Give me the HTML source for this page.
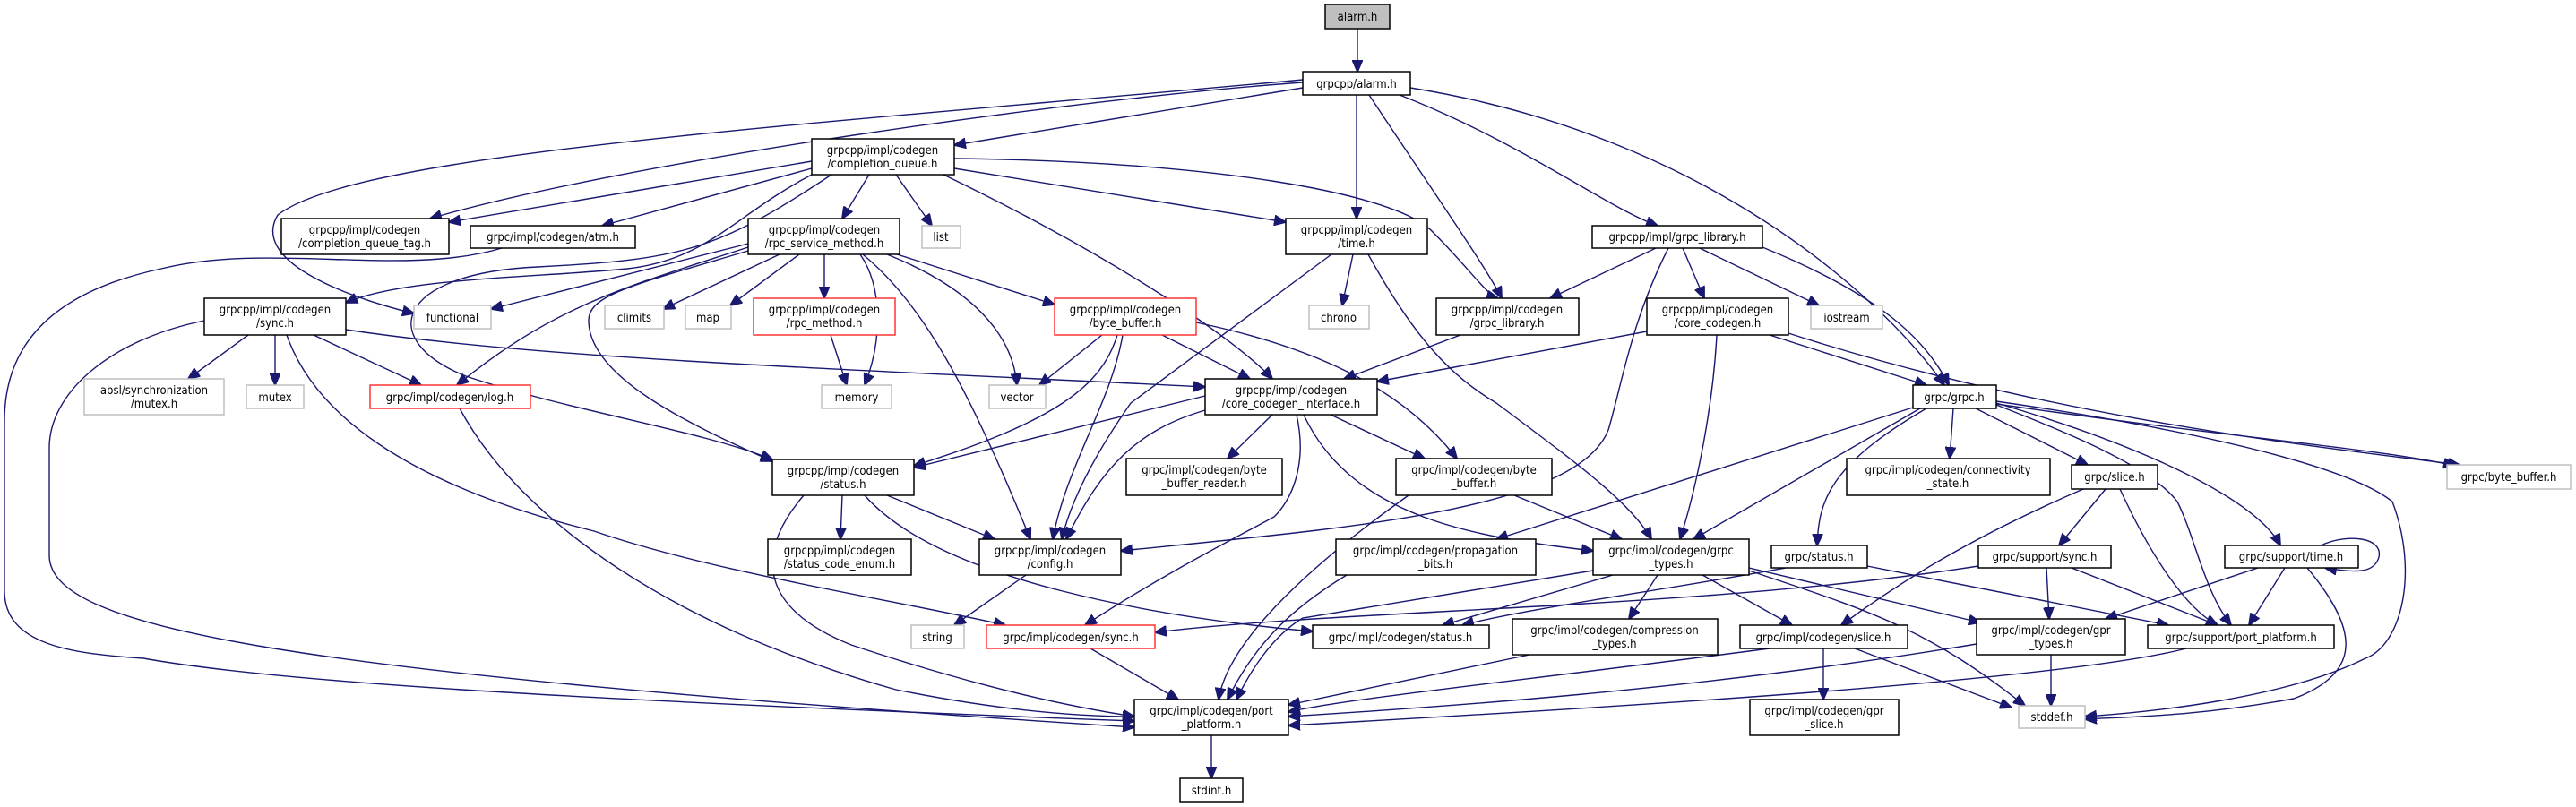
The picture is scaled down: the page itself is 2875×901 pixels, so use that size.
<!DOCTYPE html>
<html><head><meta charset="utf-8"><style>
html,body{margin:0;padding:0;background:#fff;}
svg{display:block;}
text{font-family:"DejaVu Sans Condensed","DejaVu Sans","Liberation Sans",sans-serif;font-stretch:condensed;font-size:13px;fill:#000;text-anchor:middle;}
.e{fill:none;stroke:#191970;stroke-width:1.4;marker-end:url(#ah);}
.n{fill:#fff;stroke:#000;stroke-width:1.5;}
.g{fill:#fff;stroke:#bfbfbf;stroke-width:1.5;}
.r{fill:#fff;stroke:#ff3333;stroke-width:1.5;}
</style></head><body>
<svg width="2875" height="901" viewBox="0 0 2875 901" xmlns="http://www.w3.org/2000/svg">
<defs><marker id="ah" markerUnits="userSpaceOnUse" markerWidth="14" markerHeight="12" refX="13" refY="6" orient="auto"><path d="M0,0 L14,6 L0,12 z" fill="#191970" stroke="#191970"/></marker></defs>
<g>
<path class="e" d="M1515,32 L1515,80"/>
<path class="e" d="M1454,98 L1065,162"/>
<path class="e" d="M1454,92 C1200,110 700,180 480,244"/>
<path class="e" d="M1454,89 C900,140 400,170 310,240 C280,290 380,330 462,350"/>
<path class="e" d="M1514,106 L1514,244"/>
<path class="e" d="M1528,106 C1590,200 1660,300 1676,333"/>
<path class="e" d="M1562,106 C1700,160 1790,230 1850,252"/>
<path class="e" d="M1574,98 C1900,150 2100,330 2170,430"/>
<path class="e" d="M906,180 L501,248"/>
<path class="e" d="M906,188 L672,252"/>
<path class="e" d="M970,195 L940,244"/>
<path class="e" d="M1000,195 L1040,252"/>
<path class="e" d="M1065,188 L1435,248"/>
<path class="e" d="M1065,177 C1350,180 1560,215 1600,260 C1640,300 1660,330 1672,333"/>
<path class="e" d="M1053,195 C1250,290 1380,380 1420,423"/>
<path class="e" d="M906,195 C820,240 790,290 700,300 C600,310 450,310 386,338"/>
<path class="e" d="M928,195 C800,280 760,290 600,298 C440,305 420,380 520,420 C640,460 780,480 862,513"/>
<path class="e" d="M560,277 C450,310 300,270 180,300 C40,330 5,400 5,470 L5,660 C5,720 80,730 160,735 C300,760 600,780 1266,805"/>
<path class="e" d="M228,358 C120,380 55,440 55,500 L55,620 C55,700 300,750 1266,812"/>
<path class="e" d="M277,374 L210,423"/>
<path class="e" d="M307,374 L307,430"/>
<path class="e" d="M350,374 L470,430"/>
<path class="e" d="M320,374 C350,460 450,540 663,593 C800,640 1000,670 1122,698"/>
<path class="e" d="M386,368 C600,400 900,410 1345,432"/>
<path class="e" d="M835,272 L548,345"/>
<path class="e" d="M870,284 L740,345"/>
<path class="e" d="M892,284 L815,341"/>
<path class="e" d="M920,284 L920,333"/>
<path class="e" d="M960,284 C985,320 985,380 965,430"/>
<path class="e" d="M990,284 C1080,320 1130,370 1135,430"/>
<path class="e" d="M995,282 L1177,340"/>
<path class="e" d="M835,276 C700,320 620,340 510,430"/>
<path class="e" d="M835,280 C700,320 655,330 657,360 C660,420 760,470 862,515"/>
<path class="e" d="M963,284 C1030,340 1080,430 1150,602"/>
<path class="e" d="M927,374 L945,430"/>
<path class="e" d="M1230,374 L1160,430"/>
<path class="e" d="M1247,374 C1230,430 1180,470 1020,520"/>
<path class="e" d="M1253,374 C1240,450 1190,520 1175,602"/>
<path class="e" d="M1297,374 L1395,423"/>
<path class="e" d="M1335,360 C1480,390 1570,440 1626,512"/>
<path class="e" d="M1510,284 L1498,341"/>
<path class="e" d="M1486,284 L1262,450 C1220,510 1195,560 1185,602"/>
<path class="e" d="M1527,284 C1580,380 1620,420 1670,450 C1750,510 1820,560 1843,602"/>
<path class="e" d="M1848,277 L1730,333"/>
<path class="e" d="M1878,277 L1902,333"/>
<path class="e" d="M1897,277 L2030,341"/>
<path class="e" d="M1967,276 C2100,330 2150,380 2175,430"/>
<path class="e" d="M1862,277 C1820,360 1810,430 1795,480 C1760,570 1500,590 1251,615"/>
<path class="e" d="M1630,374 L1500,423"/>
<path class="e" d="M1838,370 L1537,426"/>
<path class="e" d="M1975,374 L2150,430"/>
<path class="e" d="M1916,374 C1912,450 1895,540 1875,602"/>
<path class="e" d="M1996,372 C2300,470 2600,500 2745,519"/>
<path class="e" d="M513,456 C580,580 750,700 1000,770 Q1150,800 1266,800"/>
<path class="e" d="M1345,442 L1020,522"/>
<path class="e" d="M1345,458 C1270,480 1230,520 1190,602"/>
<path class="e" d="M1420,463 L1370,512"/>
<path class="e" d="M1485,463 L1590,512"/>
<path class="e" d="M1455,463 C1510,580 1650,600 1778,615"/>
<path class="e" d="M1447,463 C1460,520 1440,560 1422,577 C1380,600 1300,640 1211,698"/>
<path class="e" d="M2180,456 L2176,512"/>
<path class="e" d="M2205,456 L2330,519"/>
<path class="e" d="M2150,456 C2040,520 2030,560 2028,609"/>
<path class="e" d="M2143,456 L1890,602"/>
<path class="e" d="M2135,455 L1670,602"/>
<path class="e" d="M2228,452 C2300,480 2400,520 2430,560 C2450,600 2460,660 2490,698"/>
<path class="e" d="M2228,450 C2400,500 2520,560 2545,609"/>
<path class="e" d="M2228,448 C2450,480 2620,520 2670,560 C2700,640 2680,720 2640,735 C2550,780 2400,795 2327,800"/>
<path class="e" d="M2228,451 C2500,490 2650,500 2740,520"/>
<path class="e" d="M940,553 L938,602"/>
<path class="e" d="M990,553 L1110,602"/>
<path class="e" d="M897,553 C840,620 850,680 950,720 C1100,770 1200,790 1266,800"/>
<path class="e" d="M965,553 C1050,650 1300,690 1465,705"/>
<path class="e" d="M1690,553 L1810,602"/>
<path class="e" d="M1572,553 C1450,640 1370,720 1360,781"/>
<path class="e" d="M1145,642 L1065,698"/>
<path class="e" d="M1503,642 C1440,680 1400,720 1370,781"/>
<path class="e" d="M1800,642 L1610,698"/>
<path class="e" d="M1850,642 L1818,691"/>
<path class="e" d="M1778,637 L1454,690 C1420,710 1395,750 1380,781"/>
<path class="e" d="M1952,634 L2210,695"/>
<path class="e" d="M1900,642 L2000,698"/>
<path class="e" d="M1952,637 C2080,680 2150,700 2260,788"/>
<path class="e" d="M1993,634 C1850,660 1700,680 1632,698"/>
<path class="e" d="M2084,632 L2420,698"/>
<path class="e" d="M2208,632 C1900,680 1500,680 1289,706"/>
<path class="e" d="M2284,634 L2287,691"/>
<path class="e" d="M2312,634 L2475,698"/>
<path class="e" d="M2590,609 C2620,595 2660,600 2655,622 C2650,640 2630,640 2595,634"/>
<path class="e" d="M2520,634 L2350,691"/>
<path class="e" d="M2550,634 L2510,698"/>
<path class="e" d="M2575,634 C2630,700 2640,750 2560,780 C2450,800 2380,800 2327,803"/>
<path class="e" d="M2325,546 C2200,600 2120,650 2055,698"/>
<path class="e" d="M2350,546 L2298,609"/>
<path class="e" d="M2366,546 C2400,620 2440,680 2475,698"/>
<path class="e" d="M1217,724 L1315,781"/>
<path class="e" d="M1707,731 L1438,787"/>
<path class="e" d="M1975,724 C1700,760 1500,780 1438,795"/>
<path class="e" d="M2035,724 L2035,781"/>
<path class="e" d="M2070,724 L2245,790"/>
<path class="e" d="M2206,719 C1900,770 1600,790 1438,800"/>
<path class="e" d="M2289,731 L2289,788"/>
<path class="e" d="M2440,724 C2300,760 1800,790 1438,810"/>
<path class="e" d="M1352,821 L1352,869"/>
</g>
<g>
<rect x="1479" y="5" width="72" height="27" fill="#bfbfbf" stroke="#000" stroke-width="1.5"/><text x="1515" y="23">alarm.h</text>
<rect class="n" x="1454" y="80" width="120" height="26"/><text x="1514" y="98">grpcpp/alarm.h</text>
<rect class="n" x="906" y="155" width="159" height="40"/><text x="985" y="172">grpcpp/impl/codegen</text><text x="985" y="187">/completion_queue.h</text>
<rect class="n" x="314" y="244" width="187" height="40"/><text x="407" y="261">grpcpp/impl/codegen</text><text x="407" y="276">/completion_queue_tag.h</text>
<rect class="n" x="525" y="252" width="184" height="25"/><text x="617" y="269">grpc/impl/codegen/atm.h</text>
<rect class="n" x="835" y="244" width="169" height="40"/><text x="920" y="261">grpcpp/impl/codegen</text><text x="920" y="276">/rpc_service_method.h</text>
<rect class="g" x="1029" y="252" width="43" height="25"/><text x="1050" y="269">list</text>
<rect class="n" x="1435" y="244" width="158" height="40"/><text x="1514" y="261">grpcpp/impl/codegen</text><text x="1514" y="276">/time.h</text>
<rect class="n" x="1777" y="252" width="190" height="25"/><text x="1872" y="269">grpcpp/impl/grpc_library.h</text>
<rect class="n" x="228" y="333" width="158" height="41"/><text x="307" y="350">grpcpp/impl/codegen</text><text x="307" y="365">/sync.h</text>
<rect class="g" x="462" y="341" width="86" height="26"/><text x="505" y="359">functional</text>
<rect class="g" x="675" y="341" width="66" height="26"/><text x="708" y="359">climits</text>
<rect class="g" x="765" y="341" width="51" height="26"/><text x="790" y="359">map</text>
<rect class="r" x="841" y="333" width="158" height="41"/><text x="920" y="350">grpcpp/impl/codegen</text><text x="920" y="365">/rpc_method.h</text>
<rect class="r" x="1177" y="333" width="158" height="41"/><text x="1256" y="350">grpcpp/impl/codegen</text><text x="1256" y="365">/byte_buffer.h</text>
<rect class="g" x="1461" y="341" width="67" height="26"/><text x="1494" y="359">chrono</text>
<rect class="n" x="1603" y="333" width="159" height="41"/><text x="1682" y="350">grpcpp/impl/codegen</text><text x="1682" y="365">/grpc_library.h</text>
<rect class="n" x="1838" y="333" width="158" height="41"/><text x="1917" y="350">grpcpp/impl/codegen</text><text x="1917" y="365">/core_codegen.h</text>
<rect class="g" x="2021" y="341" width="80" height="26"/><text x="2061" y="359">iostream</text>
<rect class="g" x="94" y="423" width="156" height="40"/><text x="172" y="440">absl/synchronization</text><text x="172" y="455">/mutex.h</text>
<rect class="g" x="275" y="430" width="64" height="26"/><text x="307" y="448">mutex</text>
<rect class="r" x="413" y="430" width="179" height="26"/><text x="502" y="448">grpc/impl/codegen/log.h</text>
<rect class="g" x="917" y="430" width="78" height="26"/><text x="956" y="448">memory</text>
<rect class="g" x="1104" y="430" width="63" height="26"/><text x="1135" y="448">vector</text>
<rect class="n" x="1345" y="423" width="192" height="40"/><text x="1441" y="440">grpcpp/impl/codegen</text><text x="1441" y="455">/core_codegen_interface.h</text>
<rect class="n" x="2135" y="430" width="93" height="26"/><text x="2181" y="448">grpc/grpc.h</text>
<rect class="n" x="862" y="513" width="158" height="40"/><text x="941" y="530">grpcpp/impl/codegen</text><text x="941" y="545">/status.h</text>
<rect class="n" x="1257" y="512" width="174" height="41"/><text x="1344" y="529">grpc/impl/codegen/byte</text><text x="1344" y="544">_buffer_reader.h</text>
<rect class="n" x="1558" y="512" width="174" height="41"/><text x="1645" y="529">grpc/impl/codegen/byte</text><text x="1645" y="544">_buffer.h</text>
<rect class="n" x="2061" y="512" width="227" height="41"/><text x="2174" y="529">grpc/impl/codegen/connectivity</text><text x="2174" y="544">_state.h</text>
<rect class="n" x="2312" y="519" width="96" height="27"/><text x="2360" y="537">grpc/slice.h</text>
<rect class="g" x="2731" y="519" width="138" height="27"/><text x="2800" y="537">grpc/byte_buffer.h</text>
<rect class="n" x="857" y="602" width="160" height="40"/><text x="937" y="619">grpcpp/impl/codegen</text><text x="937" y="634">/status_code_enum.h</text>
<rect class="n" x="1093" y="602" width="158" height="40"/><text x="1172" y="619">grpcpp/impl/codegen</text><text x="1172" y="634">/config.h</text>
<rect class="n" x="1491" y="602" width="223" height="40"/><text x="1602" y="619">grpc/impl/codegen/propagation</text><text x="1602" y="634">_bits.h</text>
<rect class="n" x="1778" y="602" width="174" height="40"/><text x="1865" y="619">grpc/impl/codegen/grpc</text><text x="1865" y="634">_types.h</text>
<rect class="n" x="1977" y="609" width="107" height="25"/><text x="2030" y="626">grpc/status.h</text>
<rect class="n" x="2208" y="609" width="148" height="25"/><text x="2282" y="626">grpc/support/sync.h</text>
<rect class="n" x="2483" y="609" width="149" height="25"/><text x="2557" y="626">grpc/support/time.h</text>
<rect class="g" x="1017" y="698" width="59" height="26"/><text x="1046" y="716">string</text>
<rect class="r" x="1101" y="698" width="188" height="26"/><text x="1195" y="716">grpc/impl/codegen/sync.h</text>
<rect class="n" x="1465" y="698" width="197" height="26"/><text x="1563" y="716">grpc/impl/codegen/status.h</text>
<rect class="n" x="1688" y="691" width="229" height="40"/><text x="1802" y="708">grpc/impl/codegen/compression</text><text x="1802" y="723">_types.h</text>
<rect class="n" x="1942" y="698" width="187" height="26"/><text x="2035" y="716">grpc/impl/codegen/slice.h</text>
<rect class="n" x="2206" y="691" width="166" height="40"/><text x="2289" y="708">grpc/impl/codegen/gpr</text><text x="2289" y="723">_types.h</text>
<rect class="n" x="2397" y="698" width="208" height="26"/><text x="2501" y="716">grpc/support/port_platform.h</text>
<rect class="n" x="1266" y="781" width="172" height="40"/><text x="1352" y="798">grpc/impl/codegen/port</text><text x="1352" y="813">_platform.h</text>
<rect class="n" x="1953" y="781" width="166" height="40"/><text x="2036" y="798">grpc/impl/codegen/gpr</text><text x="2036" y="813">_slice.h</text>
<rect class="g" x="2253" y="788" width="74" height="25"/><text x="2290" y="805">stddef.h</text>
<rect class="n" x="1317" y="869" width="70" height="26"/><text x="1352" y="887">stdint.h</text>
</g>
</svg>
</body></html>
